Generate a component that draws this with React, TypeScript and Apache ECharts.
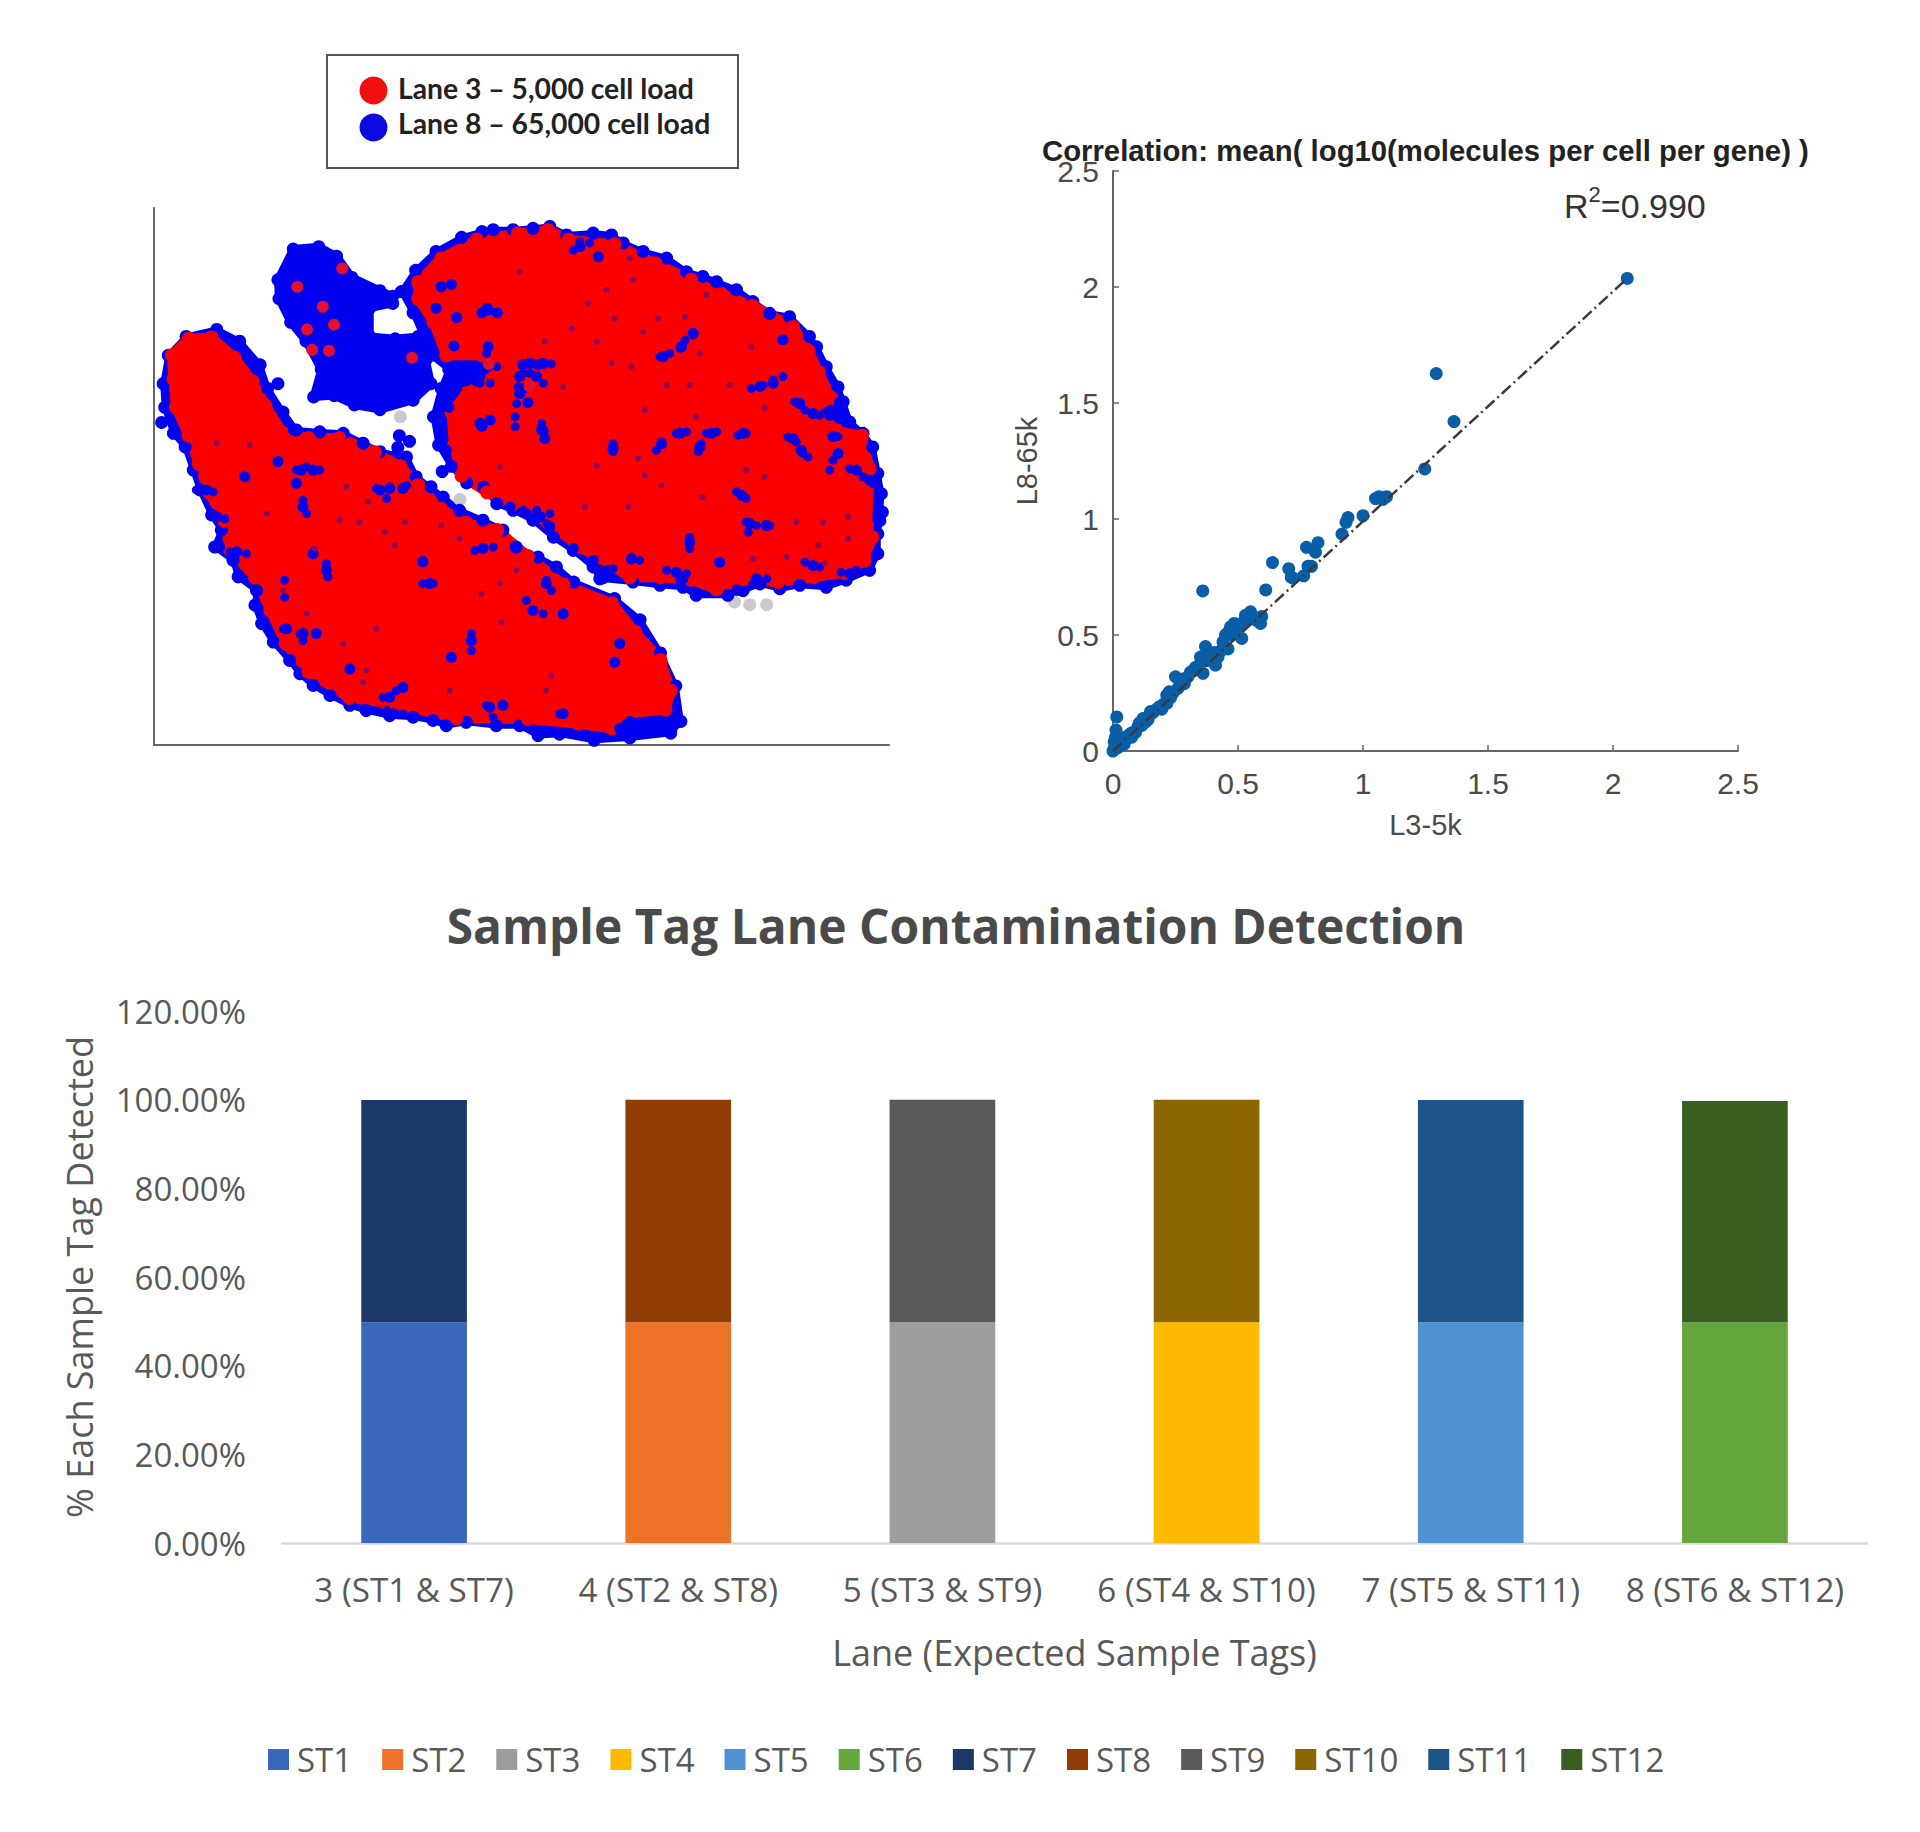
import React, { useEffect, useRef } from "react";
import * as echarts from "echarts";

// ---------- t-SNE panel (units: arbitrary embedding units) ----------
const tsneRightOuter = [[532,555],[560,510],[600,470],[650,440],[690,428],[712,424],[751,424],[790,421],[823,417],[856,435],[908,431],[944,435],[967,452],[1006,470],[1052,484],[1091,513],[1123,523],[1150,534],[1189,551],[1221,576],[1254,601],[1293,608],[1332,650],[1346,672],[1365,714],[1388,757],[1398,788],[1411,831],[1437,855],[1456,884],[1466,940],[1473,983],[1470,1040],[1466,1068],[1466,1110],[1450,1145],[1404,1166],[1365,1181],[1313,1177],[1274,1184],[1235,1174],[1202,1188],[1172,1198],[1110,1198],[1084,1181],[1039,1177],[986,1170],[921,1163],[908,1138],[869,1103],[830,1075],[790,1039],[751,1018],[719,1004],[693,969],[660,960],[630,925],[605,880],[595,820],[610,760],[625,720],[590,690],[575,650],[555,600]];
const tsneRightInner = [[565,535],[610,485],[680,445],[760,432],[820,425],[860,445],[950,455],[1030,495],[1100,530],[1160,560],[1220,585],[1300,630],[1330,680],[1350,725],[1375,780],[1335,805],[1390,850],[1435,860],[1450,930],[1445,1050],[1455,1075],[1440,1125],[1400,1150],[1340,1160],[1270,1170],[1200,1165],[1150,1185],[1100,1165],[1040,1160],[980,1160],[930,1125],[880,1095],[820,1045],[750,1005],[700,980],[650,945],[635,880],[630,810],[660,770],[730,720],[690,690],[620,690],[595,620],[565,570]];
const tsneLeftOuter = [[75,690],[110,650],[170,635],[215,660],[255,710],[270,760],[300,810],[326,848],[372,852],[418,855],[457,876],[490,894],[542,905],[561,947],[614,990],[646,1018],[692,1039],[731,1060],[757,1096],[800,1117],[836,1138],[870,1170],[950,1205],[1000,1250],[1040,1320],[1070,1390],[1080,1465],[1060,1490],[980,1500],[910,1505],[842,1492],[800,1495],[764,1474],[718,1474],[659,1467],[620,1474],[594,1463],[555,1456],[509,1453],[463,1442],[431,1431],[392,1410],[359,1389],[333,1364],[313,1336],[281,1297],[258,1258],[245,1219],[248,1188],[212,1159],[202,1124],[166,1096],[179,1060],[160,1028],[137,975],[124,933],[108,884],[85,855],[68,800],[65,750]];
const tsneLeftInner = [[82,690],[115,655],[160,652],[205,695],[240,745],[265,795],[300,855],[350,865],[410,865],[480,895],[530,925],[565,965],[610,1015],[660,1045],[720,1060],[780,1115],[850,1175],[945,1215],[990,1275],[1040,1335],[1060,1400],[1050,1440],[960,1450],[945,1480],[880,1470],[780,1460],[640,1458],[500,1425],[430,1415],[350,1360],[305,1300],[275,1230],[245,1160],[195,1100],[185,1040],[155,980],[135,920],[115,860],[90,800],[85,740]];
const tsneIsland = [[320,465],[370,460],[405,480],[435,525],[490,553],[515,565],[515,580],[470,590],[470,650],[520,655],[565,650],[580,700],[590,750],[555,785],[490,805],[440,795],[400,775],[360,778],[375,720],[345,660],[315,620],[292,570],[290,530]];
const tsneBlueIsolated = [[290,750],[62,832],[528,860],[548,872],[525,885],[612,936],[590,968],[1475,1022]];
const tsneGrey = [[1185,1212],[1215,1218],[1248,1218],[647,995],[530,820]];
const tsneRedOnBlue = [[416,506],[328,545],[378,587],[400,625],[347,635],[390,680],[357,678],[553,695],[703,708],[783,755]];
const tsneBlueFlecks = [[784,707],[810,707],[764,735],[764,771],[797,735],[702,672],[686,735],[686,834],[706,827],[807,848],[813,866],[1045,693],[1081,672],[1104,643],[702,594],[882,460],[918,481],[1261,749],[1235,756],[1280,657],[1313,792],[1339,813],[1372,817],[1391,788],[1404,831],[1078,855],[1140,855],[1202,855],[1042,877],[1117,884],[947,887],[1300,866],[1316,891],[1388,898],[1424,933],[1450,954],[1378,862],[1199,986],[1215,1046],[1248,1050],[1097,1085],[804,1032],[777,1025],[823,1053],[745,1011],[869,1099],[908,1124],[937,1145],[928,1163],[983,1121],[1071,1149],[1084,1163],[1195,1188],[1228,1163],[1339,1135],[1411,1152],[1156,1128],[320,848],[336,933],[359,933],[326,961],[339,1011],[509,972],[535,972],[490,975],[290,915],[225,947],[150,975],[170,1032],[209,1106],[176,1096],[692,1099],[574,1127],[385,1145],[588,1173],[790,1230],[849,1237],[816,1173],[307,1269],[339,1279],[365,1279],[669,1294],[630,1329],[431,1354],[535,1393],[509,1414],[516,1449],[705,1435],[731,1431],[849,1449],[359,1110],[960,1300],[950,1340],[980,1465],[1020,1475],[1050,1470],[960,1480],[990,1490],[610,545],[630,540],[600,590],[640,610],[700,590],[720,600],[690,600],[635,670],[645,720],[660,740],[680,745],[640,760],[770,710],[800,710],[770,760],[780,790],[810,850],[690,840],[625,800],[610,860],[620,890],[610,830]];
const tsneBlueChains = [[1039,693],[1058,686],[1078,675],[1088,658],[1104,647],[1071,855],[1091,852],[1042,873],[1032,891],[1130,855],[1150,852],[1120,877],[1114,894],[1192,859],[1208,855],[1290,863],[1306,873],[1319,898],[1329,905],[1241,753],[1261,742],[1280,735],[1218,760],[1303,788],[1323,806],[1352,817],[1378,806],[1388,862],[1378,912],[1372,933],[1411,930],[1437,947],[1456,961],[1208,1043],[1228,1050],[1254,1050],[1212,1064],[1189,979],[1208,993],[1097,1075],[1097,1099],[807,834],[813,863],[755,820],[755,841],[947,877],[947,894],[771,707],[797,707],[826,708],[771,728],[761,756],[758,792],[784,728],[810,749],[699,686],[719,714],[686,749],[706,749],[869,467],[882,449],[901,452],[921,1142],[947,1142],[983,1117],[999,1124],[1052,1145],[1091,1152],[1078,1167],[1189,1184],[1221,1174],[1248,1163],[1323,1128],[1352,1138],[1394,1149],[1424,1145],[771,1018],[797,1018],[823,1025],[817,1046],[326,933],[346,926],[372,933],[339,997],[346,1025],[483,972],[509,968],[542,965],[503,993],[130,975],[163,979],[163,1028],[186,1036],[170,1096],[196,1106],[228,1110],[359,1106],[385,1131],[388,1159],[303,1166],[303,1202],[300,1269],[333,1279],[339,1294],[712,1096],[676,1103],[574,1124],[574,1173],[594,1173],[777,1209],[810,1237],[669,1279],[669,1315],[522,1400],[496,1414],[503,1442],[535,1449],[699,1431],[712,1456],[842,1449],[816,1166],[826,1188]];
const tsneDarkSpecks = [[764,513],[934,551],[898,580],[950,612],[1035,612],[1088,608],[866,633],[915,661],[813,661],[1006,640],[1117,686],[1218,672],[944,707],[983,714],[1052,753],[1097,753],[1176,753],[849,757],[1110,820],[1244,802],[1009,806],[996,908],[915,923],[725,926],[1009,944],[1042,965],[1208,933],[1244,947],[1123,990],[892,1011],[977,1011],[1306,1043],[1359,1043],[1408,1032],[1408,1078],[1349,1092],[1287,1117],[1221,1121],[1362,1131],[980,484],[986,530],[1130,562],[268,1025],[362,1099],[300,1188],[450,1043],[499,1064],[539,1043],[411,1039],[346,1237],[483,1269],[689,1195],[728,1255],[757,1145],[646,1078],[610,1050],[519,1092],[463,1357],[457,1382],[627,1400],[826,1368],[816,1400],[235,880],[170,876],[424,968],[467,1000],[725,1173],[418,1301]];

// ---------- Correlation panel ----------
const corrPoints = [[2.057,2.037],[1.293,1.627],[1.364,1.42],[1.247,1.216],[1.094,1.096],[1.05,1.088],[1.064,1.096],[1.08,1.085],[1.0,1.014],[0.94,1.006],[0.932,0.986],[0.916,0.935],[0.82,0.898],[0.774,0.878],[0.81,0.857],[0.794,0.796],[0.78,0.796],[0.763,0.755],[0.703,0.786],[0.713,0.749],[0.72,0.745],[0.638,0.812],[0.611,0.694],[0.359,0.69],
[0.595,0.58],[0.59,0.55],[0.57,0.565],[0.55,0.6],[0.54,0.57],[0.525,0.56],[0.515,0.485],[0.505,0.535],[0.49,0.52],[0.47,0.535],[0.475,0.5],[0.46,0.44],[0.45,0.5],[0.44,0.47],[0.43,0.43],[0.42,0.405],[0.41,0.37],[0.4,0.42],[0.37,0.45],[0.35,0.405],[0.375,0.39],[0.36,0.335],[0.345,0.37],[0.32,0.345],[0.31,0.34],[0.3,0.32],[0.285,0.29],[0.27,0.3],[0.25,0.32],[0.26,0.27],[0.24,0.25],[0.225,0.255],[0.215,0.24],[0.215,0.205],[0.2,0.2],[0.195,0.18],[0.175,0.18],[0.16,0.165],[0.15,0.17],[0.14,0.135],[0.12,0.14],[0.115,0.11],[0.1,0.105],[0.09,0.08],[0.08,0.08],[0.07,0.075],[0.06,0.055],[0.05,0.06],[0.04,0.05],[0.035,0.035],[0.03,0.025],[0.025,0.04],[0.02,0.015],[0.015,0.147],[0.012,0.09],[0.01,0.06],[0.008,0.02],[0.005,0.04],[0.003,0.005],[0,0],[0.53,0.585],[0.56,0.58],[0.485,0.55],[0.46,0.51],[0.44,0.44],[0.405,0.425],[0.385,0.42],[0.33,0.36],[0.28,0.31],[0.23,0.23],[0.185,0.19],[0.13,0.125],[0.105,0.12],[0.075,0.06],[0.045,0.03]];
const corrFitLine = [[0,0],[2.05,2.03]];

// ---------- Stacked bar panel ----------
const laneCategories = ["3 (ST1 & ST7)", "4 (ST2 & ST8)", "5 (ST3 & ST9)", "6 (ST4 & ST10)", "7 (ST5 & ST11)", "8 (ST6 & ST12)"];
const lowerTags = ["ST1", "ST2", "ST3", "ST4", "ST5", "ST6"];
const upperTags = ["ST7", "ST8", "ST9", "ST10", "ST11", "ST12"];
const lowerValues = [49.8, 49.8, 49.8, 49.8, 49.8, 49.8];
const upperValues = [50.1, 50.2, 50.2, 50.2, 50.1, 49.9];
const lowerColors = ["#3A66BC", "#EC7228", "#9D9D9D", "#FFBA00", "#4E92D2", "#64A53C"];
const upperColors = ["#1B3868", "#923D06", "#595959", "#8C6500", "#1C5489", "#3A5D22"];

const TSNE_RED = "#FA0000";
const TSNE_BLUE = "#0000EE";

function blob(outline: number[][], color: string, edge: number) {
  return {
    type: "custom", xAxisIndex: 0, yAxisIndex: 0, silent: true, clip: false,
    data: outline, encode: { x: 0, y: 1 },
    renderItem: (params: any, api: any) => {
      if (params.dataIndex !== 0) return null;
      return {
        type: "polygon",
        shape: { points: outline.map((p) => api.coord(p)) },
        style: { fill: color, stroke: color, lineWidth: edge, lineJoin: "round" },
      };
    },
  };
}
function dots(data: number[][], color: string, size: number) {
  return {
    type: "scatter", xAxisIndex: 0, yAxisIndex: 0, silent: true, data,
    symbolSize: size, itemStyle: { color, opacity: 1 },
  };
}

export default function App() {
  const ref = useRef<HTMLDivElement>(null);
  useEffect(() => {
    const chart = echarts.init(ref.current!, undefined, { renderer: "svg" });
    const sans = "'Liberation Sans', Arial, sans-serif";
    const office = "'Open Sans', sans-serif";
    const barSeries: any[] = [];
    lowerTags.forEach((name, i) => barSeries.push({
      name, type: "bar", stack: "lane", xAxisIndex: 2, yAxisIndex: 2, barWidth: "40%",
      itemStyle: { color: lowerColors[i] },
      data: laneCategories.map((_, j) => (j === i ? lowerValues[i] : null)),
    }));
    upperTags.forEach((name, i) => barSeries.push({
      name, type: "bar", stack: "lane", xAxisIndex: 2, yAxisIndex: 2, barWidth: "40%",
      itemStyle: { color: upperColors[i] },
      data: laneCategories.map((_, j) => (j === i ? upperValues[i] : null)),
    }));

    chart.setOption({
      animation: false,
      backgroundColor: "#fff",
      title: [
        { text: "Correlation: mean( log10(molecules per cell per gene) )", left: 1037, top: 131, textStyle: { fontFamily: sans, fontSize: 29.3, fontWeight: "bold", color: "#222" } },
        { text: "Sample Tag Lane Contamination Detection", left: 951, top: 896, textAlign: "center", textStyle: { fontFamily: office, fontSize: 47.9, fontWeight: "bold", color: "#4A4A4A" } },
      ],
      legend: {
        data: [...lowerTags, ...upperTags], left: 263, top: 1738, icon: "rect", itemWidth: 21, itemHeight: 21, itemGap: 30,
        textStyle: { fontFamily: office, fontSize: 33, color: "#595959", padding: [0, 0, 0, 3] },
      },
      grid: [
        { left: 154, width: 735, top: 208, height: 537 },
        { left: 1113, width: 625, top: 171, height: 580 },
        { left: 282, width: 1585, top: 1011, height: 532 },
      ],
      xAxis: [
        { type: "value", gridIndex: 0, min: 47, max: 1488, axisLine: { show: true, onZero: false, lineStyle: { color: "#666", width: 2 } }, axisTick: { show: false }, axisLabel: { show: false }, splitLine: { show: false } },
        {
          type: "value", gridIndex: 1, min: 0, max: 2.5, interval: 0.5, name: "L3-5k", nameLocation: "middle", nameGap: 59,
          nameTextStyle: { fontFamily: sans, fontSize: 29, color: "#4A4A4A" },
          axisLine: { show: true, onZero: false, lineStyle: { color: "#666", width: 2 } },
          axisTick: { inside: true, length: 6, lineStyle: { color: "#666", width: 1.5 } },
          axisLabel: { margin: 17, fontFamily: sans, fontSize: 30, color: "#4A4A4A" },
          splitLine: { show: false },
        },
        {
          type: "category", gridIndex: 2, data: laneCategories, name: "Lane (Expected Sample Tags)", nameLocation: "middle", nameGap: 91,
          nameTextStyle: { fontFamily: office, fontSize: 36, color: "#595959" },
          axisLine: { lineStyle: { color: "#D9D9D9", width: 2.5 } }, axisTick: { show: false },
          axisLabel: { margin: 30, fontFamily: office, fontSize: 33.2, color: "#595959", interval: 0 },
        },
      ],
      yAxis: [
        { type: "value", gridIndex: 0, min: 378, max: 1515, inverse: true, axisLine: { show: true, onZero: false, lineStyle: { color: "#666", width: 2 } }, axisTick: { show: false }, axisLabel: { show: false }, splitLine: { show: false } },
        {
          type: "value", gridIndex: 1, min: 0, max: 2.5, interval: 0.5, name: "L8-65k", nameLocation: "middle", nameGap: 72, nameRotate: 90,
          nameTextStyle: { fontFamily: sans, fontSize: 29, color: "#4A4A4A" },
          axisLine: { show: true, onZero: false, lineStyle: { color: "#666", width: 2 } },
          axisTick: { inside: true, length: 6, lineStyle: { color: "#666", width: 1.5 } },
          axisLabel: { margin: 14, fontFamily: sans, fontSize: 30, color: "#4A4A4A" },
          splitLine: { show: false },
        },
        {
          type: "value", gridIndex: 2, min: 0, max: 120, interval: 20, name: "% Each Sample Tag Detected", nameLocation: "middle", nameGap: 185, nameRotate: 90,
          nameTextStyle: { fontFamily: office, fontSize: 36, color: "#595959" },
          axisLine: { show: false }, axisTick: { show: false }, splitLine: { show: false },
          axisLabel: { margin: 36, fontFamily: office, fontSize: 33, color: "#595959", formatter: (v: number) => v.toFixed(2) + "%" },
        },
      ],
      series: [
        dots(tsneGrey, "#C9C9CF", 13),
        blob(tsneIsland, TSNE_BLUE, 8),
        blob(tsneRightOuter, TSNE_BLUE, 6),
        blob(tsneLeftOuter, TSNE_BLUE, 6),
        dots([...tsneIsland, ...tsneRightOuter, ...tsneLeftOuter, ...tsneBlueIsolated], TSNE_BLUE, 13),
        blob(tsneRightInner, TSNE_RED, 10),
        blob(tsneLeftInner, TSNE_RED, 10),
        dots([...tsneRightInner, ...tsneLeftInner], TSNE_RED, 14),
        dots(tsneBlueFlecks, TSNE_BLUE, 11),
        dots(tsneBlueChains, "#1200D8", 9),
        dots(tsneDarkSpecks, "#8A0A5A", 6),
        dots(tsneRedOnBlue, "#E41030", 12),
        {
          type: "scatter", xAxisIndex: 1, yAxisIndex: 1, data: corrPoints, symbolSize: 13, silent: true,
          itemStyle: { color: "#0A5EA8", opacity: 1 },
        },
        {
          type: "line", xAxisIndex: 1, yAxisIndex: 1, data: corrFitLine, symbol: "none", silent: true,
          lineStyle: { color: "#3A3A3A", width: 2.5, type: [12, 4, 2, 4] },
        },
        ...barSeries,
      ],
      graphic: [
        { type: "rect", shape: { x: 327, y: 55, width: 411, height: 113 }, style: { fill: "#fff", stroke: "#555", lineWidth: 2 } },
        { type: "circle", shape: { cx: 373.5, cy: 90.5, r: 14 }, style: { fill: "#F01010" } },
        { type: "circle", shape: { cx: 373.5, cy: 127.5, r: 14 }, style: { fill: "#0A0ADC" } },
        { type: "text", x: 398, y: 88, style: { text: "Lane 3 \u2013 5,000 cell load", font: "bold 28.3px Lato, sans-serif", fill: "#222", verticalAlign: "middle" } },
        { type: "text", x: 398, y: 123, style: { text: "Lane 8 \u2013 65,000 cell load", font: "bold 28.3px Lato, sans-serif", fill: "#222", verticalAlign: "middle" } },
        {
          type: "text", x: 1564, y: 183,
          style: {
            text: "{r|R}{s|2}{r|=0.990}", verticalAlign: "top",
            rich: {
              r: { fontFamily: sans, fontSize: 34, fill: "#333", verticalAlign: "bottom", lineHeight: 40 },
              s: { fontFamily: sans, fontSize: 22, fill: "#333", verticalAlign: "top", lineHeight: 40 },
            },
          },
        },
      ],
    });
    return () => chart.dispose();
  }, []);
  return <div ref={ref} style={{ position: "absolute", left: 0, top: 0, width: 1920, height: 1832 }} />;
}
